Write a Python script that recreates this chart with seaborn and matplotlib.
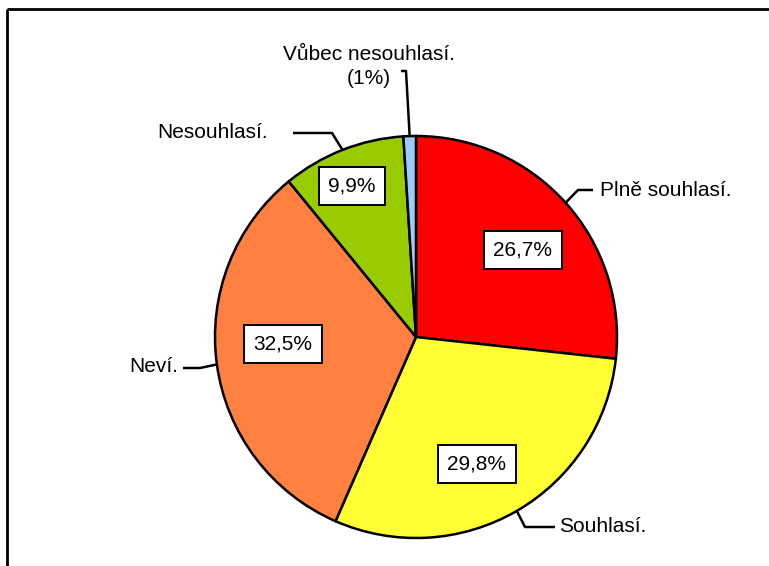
import numpy as np
import matplotlib
matplotlib.use("Agg")
import matplotlib.pyplot as plt
import seaborn as sns

# -------------------------
# Data
# -------------------------
categories = ["Plně souhlasí.", "Souhlasí.", "Neví.", "Nesouhlasí.", "Vůbec nesouhlasí."]
values = [26.7, 29.8, 32.5, 9.9, 1.0]
colors = ["#FF0000", "#FFFF33", "#FF8040", "#99CC00", "#99CCFF"]

# -------------------------
# Layout (image pixels, y measured from the top)
# -------------------------
W, H = 769, 566
CX, CY, R = 416, 337, 201
# percentage box centres (None = label carries the percent itself)
pct_pos = [(523, 250), (477, 464), (283, 344), (352, 186), None]
# category label positions and alignment
lab_pos = [(600, 190), (559, 527), (178, 367), (268, 133), (369, 55)]
lab_ha = ["left", "left", "right", "right", "center"]
# leader line: start near the label, then the elbow; end is on the wedge
lead_pts = [
    [(593, 190), (578, 190)],
    [(555, 527), (525, 527)],
    [(183, 368), (200, 368)],
    [(293, 133), (332, 133)],
    [(401, 71), (406, 71)],
]

sns.set_theme(style="white")
plt.rcParams["font.family"] = ["Liberation Sans", "DejaVu Sans"]

fig = plt.figure(figsize=(W / 100, H / 100), dpi=100)
ax = fig.add_axes([0, 0, 1, 1])


def py(y):
    return H - y


wedges, _ = ax.pie(values, colors=colors, startangle=90, counterclock=False,
                   center=(CX, py(CY)), radius=R,
                   wedgeprops=dict(edgecolor="black", linewidth=1.8))
ax.set_xlim(0, W)
ax.set_ylim(0, H)
ax.set_aspect("equal")
ax.axis("off")

for i, w in enumerate(wedges):
    mid = np.deg2rad((w.theta1 + w.theta2) / 2)
    arc_pt = (CX + R * np.cos(mid), py(CY) + R * np.sin(mid))

    # leader line
    pts = [(x, py(y)) for x, y in lead_pts[i]] + [arc_pt]
    xs, ys = zip(*pts)
    ax.plot(xs, ys, color="black", lw=1.8, solid_capstyle="butt", zorder=3)

    lx, ly = lab_pos[i]
    if pct_pos[i] is None:
        # small slice: percent goes under the category name
        ax.text(lx, py(ly), categories[i], ha="center", va="center", fontsize=15, color="black")
        ax.text(lx, py(ly + 24), f"({values[i]:.0f}%)", ha="center", va="center",
                fontsize=15, color="black")
    else:
        ax.text(lx, py(ly), categories[i], ha=lab_ha[i], va="center",
                fontsize=15, color="black")
        px, pyy = pct_pos[i]
        ax.text(px, py(pyy), f"{values[i]:.1f}".replace(".", ",") + "%",
                ha="center", va="center", fontsize=15, color="black", zorder=4,
                bbox=dict(boxstyle="square,pad=0.45", fc="white", ec="black", lw=1.4))

# chart frame (only top and left edges fall inside the picture)
ax.plot([7, W], [py(9), py(9)], color="black", lw=2, solid_capstyle="butt")
ax.plot([7, 7], [py(9), 0], color="black", lw=2, solid_capstyle="butt")

fig.savefig("out.png", dpi=100)
